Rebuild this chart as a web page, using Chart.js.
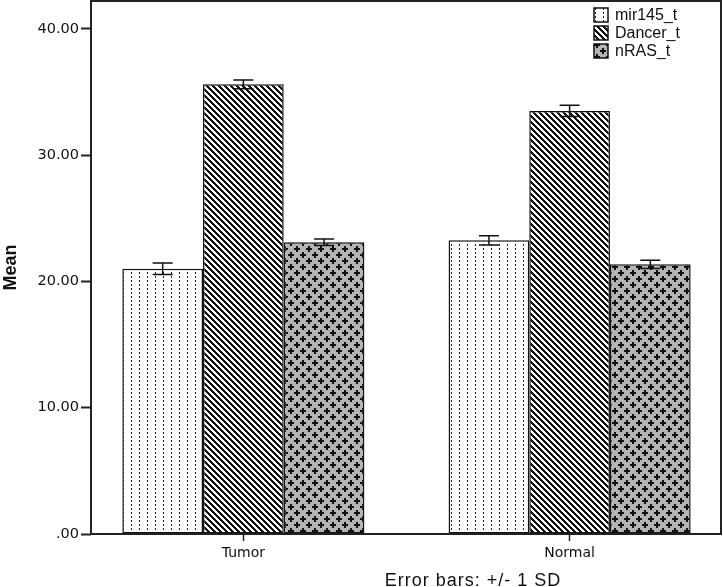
<!DOCTYPE html>
<html>
<head>
<meta charset="utf-8">
<script src="https://cdn.jsdelivr.net/npm/chart.js@4/dist/chart.umd.min.js"></script>
<style>
  html, body { margin: 0; padding: 0; background: #fff; }
  #wrap { width: 723px; height: 587px; }
</style>
</head>
<body>
<div id="wrap"><canvas id="chart" width="723" height="587"></canvas></div>
<script>
// data
const groups = ["Tumor", "Normal"];
const seriesNames = ["mir145_t", "Dancer_t", "nRAS_t"];
const mir145Mean = [21.0, 23.25];
const dancerMean = [35.6, 33.5];
const nrasMean = [23.1, 21.35];
const mir145Sd = [0.45, 0.37];
const dancerSd = [0.35, 0.44];
const nrasSd = [0.25, 0.32];
const yTicks = [0, 10, 20, 30, 40];

/* ---- fill patterns ---- */
function makeTile(w, h, draw) {
  const c = document.createElement("canvas");
  c.width = w; c.height = h;
  const g = c.getContext("2d");
  draw(g);
  return document.createElement("canvas").getContext("2d").createPattern(c, "repeat");
}

// white with vertical dotted lines
const dotPattern = makeTile(8, 4, g => {
  g.fillStyle = "#fff"; g.fillRect(0, 0, 8, 4);
  g.fillStyle = "#222"; g.fillRect(3, 0, 1, 2);
});

// diagonal stripes (\ direction)
const stripePattern = makeTile(6, 6, g => {
  g.fillStyle = "#fff"; g.fillRect(0, 0, 6, 6);
  g.fillStyle = "#111";
  for (let i = 0; i < 6; i++) {
    g.fillRect(i, i, 1, 1);
    g.fillRect((i + 1) % 6, i, 1, 1);
    g.fillRect((i + 2) % 6, i, 1, 1);
  }
});

// grey with black plus signs, staggered
const crossPattern = makeTile(12, 12, g => {
  g.fillStyle = "#b4b4b4"; g.fillRect(0, 0, 12, 12);
  g.fillStyle = "#111";
  const plus = (x, y) => {
    g.fillRect(x - 1, y - 3, 2, 6);
    g.fillRect(x - 3, y - 1, 6, 2);
  };
  plus(3, 3); plus(9, 9);
});

const fills = [dotPattern, stripePattern, crossPattern];
const means = [mir145Mean, dancerMean, nrasMean];
const sds = [mir145Sd, dancerSd, nrasSd];

/* ---- plugins ---- */
const errorBars = {
  id: "errorBars",
  afterDatasetsDraw(chart) {
    const ctx = chart.ctx;
    const y = chart.scales.y;
    ctx.save();
    ctx.strokeStyle = "#111";
    ctx.lineWidth = 1.5;
    chart.data.datasets.forEach((ds, di) => {
      const meta = chart.getDatasetMeta(di);
      meta.data.forEach((bar, i) => {
        const m = means[di][i], s = sds[di][i];
        const top = y.getPixelForValue(m + s);
        const bot = y.getPixelForValue(m - s);
        const half = 10;
        ctx.beginPath();
        ctx.moveTo(bar.x, top); ctx.lineTo(bar.x, bot);
        ctx.moveTo(bar.x - half, top); ctx.lineTo(bar.x + half, top);
        ctx.moveTo(bar.x - half, bot); ctx.lineTo(bar.x + half, bot);
        ctx.stroke();
      });
    });
    ctx.restore();
  }
};

const frameAndText = {
  id: "frameAndText",
  afterDraw(chart) {
    const ctx = chart.ctx;
    const a = chart.chartArea;
    ctx.save();
    ctx.strokeStyle = "#222";
    ctx.lineWidth = 2;
    ctx.strokeRect(a.left, a.top, a.right - a.left, a.bottom - a.top);

    // legend in the top right corner
    ctx.font = "16px 'Liberation Sans', Arial, sans-serif";
    ctx.textBaseline = "middle";
    seriesNames.forEach((name, i) => {
      const yy = 15 + i * 18;
      ctx.fillStyle = fills[i];
      ctx.fillRect(594, yy - 7, 14, 14);
      ctx.lineWidth = 1.5;
      ctx.strokeStyle = "#111";
      ctx.strokeRect(594, yy - 7, 14, 14);
      ctx.fillStyle = "#111";
      ctx.fillText(name, 615, yy + 1);
    });

    // footnote
    ctx.font = "18px 'Liberation Sans', Arial, sans-serif";
    ctx.letterSpacing = "1px";
    ctx.textAlign = "center";
    ctx.textBaseline = "alphabetic";
    ctx.fillText("Error bars: +/- 1 SD", 473, 586);
    ctx.restore();
  }
};

/* ---- chart ---- */
new Chart(document.getElementById("chart"), {
  type: "bar",
  data: {
    datasets: seriesNames.map((name, i) => ({
      label: name,
      data: means[i].map((m, j) => ({ x: j, y: m })),
      backgroundColor: fills[i],
      borderColor: "#111",
      borderWidth: 1.5,
      borderSkipped: false,
      categoryPercentage: 0.742,
      barPercentage: 1.0
    }))
  },
  options: {
    responsive: false,
    animation: false,
    layout: { padding: { top: 1, right: 2, left: 0, bottom: 0 } },
    plugins: {
      legend: { display: false },
      tooltip: { enabled: false }
    },
    scales: {
      x: {
        type: "linear",
        offset: false,
        min: -0.467,
        max: 1.464,
        afterBuildTicks(scale) { scale.ticks = groups.map((g, j) => ({ value: j })); },
        grid: {
          display: true, drawOnChartArea: false, drawTicks: true, offset: false,
          tickLength: 7, tickColor: "#222", tickWidth: 1.5
        },
        border: { display: false },
        ticks: {
          color: "#111",
          padding: 4,
          font: { family: "'DejaVu Sans', Verdana, sans-serif", size: 14 },
          callback: v => groups[v]
        },
        afterFit(scale) { scale.height = 53; scale.paddingLeft = 0; scale.paddingRight = 0; }
      },
      y: {
        min: 0,
        max: 42.2,
        afterBuildTicks(scale) { scale.ticks = yTicks.map(v => ({ value: v })); },
        grid: {
          display: true, drawOnChartArea: false, drawTicks: true,
          tickLength: 10, tickColor: "#222", tickWidth: 2
        },
        border: { display: false },
        ticks: {
          color: "#111",
          padding: 2,
          font: { family: "'DejaVu Sans', Verdana, sans-serif", size: 14.5 },
          callback: v => v === 0 ? ".00" : v.toFixed(2)
        },
        title: {
          display: true,
          text: "Mean",
          color: "#111",
          padding: { top: 0, bottom: 0 },
          font: { family: "'Liberation Sans', Arial, sans-serif", size: 18, weight: "bold" }
        },
        afterFit(scale) { scale.width = 91; scale.paddingTop = 0; scale.paddingBottom = 0; }
      }
    }
  },
  plugins: [errorBars, frameAndText]
});
</script>
</body>
</html>
